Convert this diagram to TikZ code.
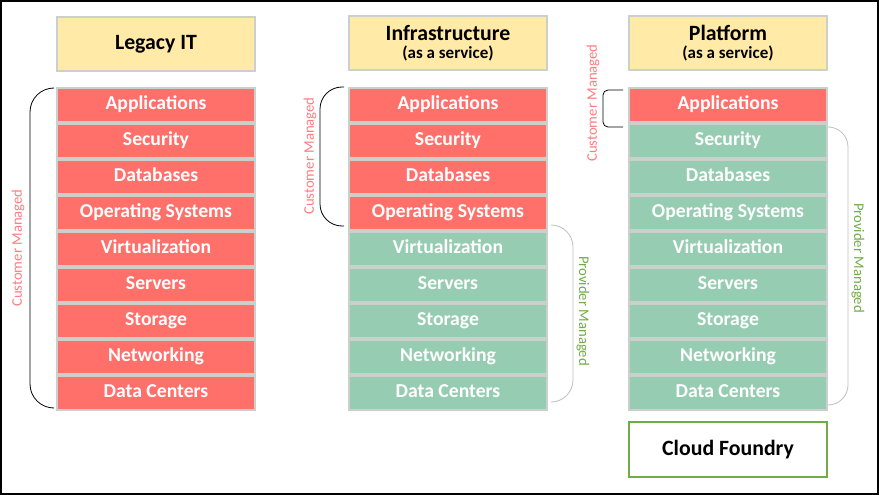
\documentclass[tikz,border=0pt]{standalone}
\usepackage{fontspec}
\setmainfont{Carlito}
\definecolor{redrow}{RGB}{255,112,107}
\definecolor{greenrow}{RGB}{150,205,178}
\definecolor{hdr}{RGB}{255,234,168}
\definecolor{rowedge}{RGB}{204,208,204}
\definecolor{custc}{RGB}{255,124,128}
\definecolor{provc}{RGB}{112,173,71}
\definecolor{braceg}{RGB}{191,191,191}
\begin{document}
\begin{tikzpicture}[x=1pt,y=-1pt,
  rowbox/.style={draw=rowedge, line width=1.3pt, minimum width=198pt, minimum height=34pt, inner sep=0pt, text height=13.5pt, text depth=4.5pt, text=white, font=\fontsize{19.7}{20}\selectfont\bfseries},
  redbox/.style={rowbox, fill=redrow},
  greenbox/.style={rowbox, fill=greenrow},
  hdrbox/.style={draw=rowedge, fill=hdr, line width=1.3pt, minimum width=198pt, minimum height=54pt, inner sep=0pt, align=center, font=\bfseries},
  custbrace/.style={draw=black, line width=0.8pt},
  provbrace/.style={draw=braceg, line width=0.8pt},
  custlabel/.style={text=custc, font=\fontsize{14.7}{16}\selectfont, rotate=90, inner sep=0pt},
  provlabel/.style={text=provc, font=\fontsize{14.7}{16}\selectfont, rotate=-90, inner sep=0pt},
  cfbox/.style={draw=provc, fill=white, line width=1.2pt, minimum width=198pt, minimum height=55pt, inner sep=0pt, font=\fontsize{21.8}{24}\selectfont\bfseries}
]
\useasboundingbox (0,0) rectangle (879,495);
\draw[line width=2pt] (1,1) rectangle (878,494);

% headers
\node[hdrbox] (hL) at (156,44) {\fontsize{21.8}{24}\selectfont Legacy IT};
\node[hdrbox] (hI) at (448,43) {\fontsize{21.8}{23}\selectfont Infrastructure\\[4pt]\fontsize{17}{18}\selectfont (as a service)};
\node[hdrbox] (hP) at (728,43) {\fontsize{21.8}{23}\selectfont Platform\\[4pt]\fontsize{17}{18}\selectfont (as a service)};

% rows
\foreach \t [count=\i from 0] in {Applications,Security,Databases,Operating Systems,Virtualization,Servers,Storage,Networking,Data Centers}{
  \node[redbox] (L\i) at (156,105+36*\i) {\t};
}
\foreach \t [count=\i from 0] in {Applications,Security,Databases,Operating Systems}{
  \node[redbox] (I\i) at (448,105+36*\i) {\t};
}
\foreach \t [count=\i from 4] in {Virtualization,Servers,Storage,Networking,Data Centers}{
  \node[greenbox] (I\i) at (448,105+36*\i) {\t};
}
\node[redbox] (P0) at (728,105) {Applications};
\foreach \t [count=\i from 1] in {Security,Databases,Operating Systems,Virtualization,Servers,Storage,Networking,Data Centers}{
  \node[greenbox] (P\i) at (728,105+36*\i) {\t};
}

\node[cfbox] (cf) at (728,449.5) {Cloud Foundry};

% braces
\draw[custbrace, rounded corners=24] (52,88) -- (30,88) -- (30,408) -- (52,408);
\node[custlabel] (cL) at (18,248) {Customer Managed};

\draw[custbrace, rounded corners=22] (344,87) -- (320,87) -- (320,226) -- (344,226);
\node[custlabel] (cI) at (310,156) {Customer Managed};

\draw[provbrace, rounded corners=22] (551,225) -- (573,225) -- (573,402) -- (551,402);
\node[provlabel] (pI) at (583,311) {Provider Managed};

\draw[custbrace, rounded corners=5] (623,90) -- (603,90) -- (603,127) -- (623,127);
\node[custlabel] (cP) at (593,103) {Customer Managed};

\draw[provbrace, rounded corners=20] (831,127) -- (848,127) -- (848,405) -- (830,405);
\node[provlabel] (pP) at (858,258) {Provider Managed};
\end{tikzpicture}
\end{document}
